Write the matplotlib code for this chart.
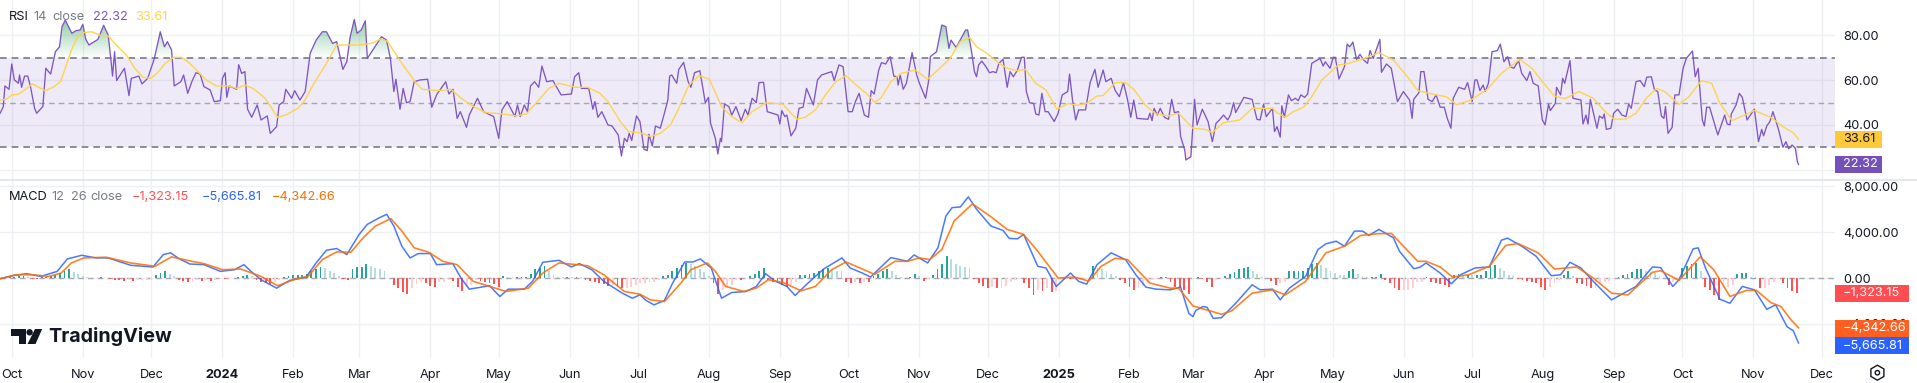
import numpy as np
import pandas as pd
import matplotlib
matplotlib.use("Agg")
import matplotlib.pyplot as plt
from matplotlib.path import Path
from matplotlib.patches import Rectangle, Polygon, Circle, RegularPolygon

# all x values are days counted from 1 Oct 2023
START = pd.Timestamp("2023-10-01")

month_dates = ["2023-10-01", "2023-11-01", "2023-12-01", "2024-01-01", "2024-02-01", "2024-03-01",
               "2024-04-01", "2024-05-01", "2024-06-01", "2024-07-01", "2024-08-01", "2024-09-01",
               "2024-10-01", "2024-11-01", "2024-12-01", "2025-01-01", "2025-02-01", "2025-03-01",
               "2025-04-01", "2025-05-01", "2025-06-01", "2025-07-01", "2025-08-01", "2025-09-01",
               "2025-10-01", "2025-11-01", "2025-12-01"]
month_labels = ["Oct", "Nov", "Dec", "2024", "Feb", "Mar", "Apr", "May", "Jun", "Jul", "Aug", "Sep",
                "Oct", "Nov", "Dec", "2025", "Feb", "Mar", "Apr", "May", "Jun", "Jul", "Aug", "Sep",
                "Oct", "Nov", "Dec"]

rsi_ticks = [80, 60, 40, 20]
rsi_tick_labels = ["80.00", "60.00", "40.00", ""]  # 20.00 sits behind the 22.32 tag
macd_ticks = [8000, 4000, 0, -4000]
macd_tick_labels = ["8,000.00", "4,000.00", "0.00", "\u22124,000.00"]

rsi_days = [-5.2, -3.8, -3.1, -1.3, -0.1, 1, 2.8, 3.3, 4.2, 5.5, 6.9, 8.1, 9.9, 10.8, 13.5, 14.8, 16.9, 19, 20.8, 21.9,
            23.3, 25.1, 26.2, 28, 29.8, 31, 32.3, 33.7, 37.6, 40.1, 42.1, 43.3, 44, 44.9, 45.8, 49.2, 51.2, 52.2, 55.5, 56.9,
            59.4, 62.3, 64.9, 66.7, 68, 69.8, 71, 73.9, 75.1, 76.9, 78.7, 80.5, 82.3, 84, 86.7, 88.5, 91.2, 92.1, 93.3, 94,
            95.1, 98.3, 99.2, 100.5, 101.9, 103.1, 104.9, 107.3, 109, 111.7, 113, 115.8, 116.9, 118.9, 119.8, 122.4, 123.7, 126, 128.3, 130.5,
            133.1, 135.8, 137.6, 140.3, 142.1, 144.8, 146.5, 148, 149.8, 151, 152.8, 154.6, 155.5, 161.7, 163.9, 165.6, 167.1, 168, 169.8, 171.2,
            172.6, 174.2, 176, 178.7, 181.9, 183.7, 185.8, 189.8, 191.2, 193, 194.8, 196.2, 198.9, 200.1, 203.7, 206.4, 210.8, 213, 214.4, 216.7,
            220.1, 221.2, 222.4, 224.2, 225.6, 226.9, 228.7, 230.5, 231.9, 234, 236.7, 240.3, 244.8, 246.2, 248, 249.2, 252.4, 254.2, 255.1, 256.4,
            258.1, 260.8, 262.6, 265.3, 266.7, 268, 269.2, 270.1, 271.2, 273.3,
            274.8, 276.6, 278, 278.7, 280.2, 281.6, 283.7, 285.5, 287, 287.8, 288.7, 290.9, 291.8, 293.9, 295.9, 297.1, 298.7, 301, 302.1, 303.4,
            304.8, 305.7, 307.8, 308.9, 310, 310.5, 311.8, 313.7, 315, 316.8, 319.1, 320.9, 322.1, 323.9, 325.7, 326.9, 328.9, 330.5, 332.8, 335.2,
            336, 336.9, 338.2, 339.1, 340.9, 343, 344.4, 346.2, 347.7, 350.7, 352.5, 354.3, 358.7, 359.8, 361.9, 363.7, 365.9, 367.7, 369.1, 370.7,
            373, 374.8, 376, 377.3, 379.3, 380.5, 382.3, 384.3, 385.9, 387.3, 387.8, 388.7, 390, 391.4, 393.9, 395.9, 397.1, 399.8, 401.2, 401.9,
            404.6, 406.9, 408.7, 410, 410.9, 413.2, 417.3, 418.2, 419.8, 421.2, 422.1, 423, 424.4, 426.2, 427.8, 429.3, 430.7, 431.9, 433.7, 435.5,
            436.8, 438.2, 440, 441.8, 443, 443.9, 445.3, 447.1, 448, 449.4, 450.7, 452.1, 453.4, 456.1, 457.8, 459.6, 462, 462.8, 464.1, 465.5,
            466.8, 469.8, 471.8, 473.9, 475.3, 477.5, 478.7, 481, 482.8, 484.6, 486.4, 488.2, 489.6, 490.9, 492.3, 497.1, 498, 498.9, 499.8, 501.2,
            502.5, 504.3, 506.1, 507.5, 508.7, 510.5, 511.4, 513.2, 513.7, 515.9, 517.5, 518.6, 520.9, 523.4, 525.3, 526.9, 528.4, 530.2, 532, 533.2,
            534.6, 535.5, 539.1, 542.7, 544.8, 546.2, 547.7, 548.9, 551.6, 552.5,
            553.6, 555, 555.7, 556.8, 558.6, 559.9, 561.6, 562.9, 564, 565.7, 567, 568.8, 572.4, 573.8, 574.7, 576.8, 578.2, 579.1, 580.7, 583.1,
            584.3, 585.4, 586.8, 588.4, 589.9, 591.5, 593.2, 594.3, 595.7, 598.6, 599.3, 601.5, 603.6, 606.3, 608.9, 611.6, 612.7, 613.4, 615.7, 616.5,
            617.9, 619.7, 621.5, 623.2, 625, 626.8, 628.1, 629.7, 630.7, 633.1, 635.7, 637, 639, 640.2, 641.1, 642.4, 643.8, 644.7, 646.1, 647.7,
            650, 651.3, 652.9, 654.5, 655.7, 657.2, 659.3, 660.7, 662.9, 664.3, 665.7, 667.9, 669.7, 670.9, 672.4, 673.2, 675.4, 675.9, 677.7, 678.6,
            679.5, 681.8, 683.1, 686.6, 687.5, 688.8, 689.7, 690.7, 693.6, 694.7, 696.1, 696.8, 697.7, 699.7, 700.9, 702.7, 704.5, 706.3, 707.5, 708.6,
            710.7, 712.5, 714.3, 715.4, 717.4, 718.8, 720.2, 721.8, 722.9, 723.6, 724.7, 726.5, 727.7, 729.5, 731.3, 732.7, 735.4, 736.6, 737.9, 739.7,
            740.6, 741.6, 742.9, 746.5, 749.5, 750.6, 751.8, 752.4, 754.5, 755.9, 757.2, 759.3, 762.5, 764.3, 765.7, 766.5, 767.9, 769.3, 770.6, 772.9,
            775, 776.3, 777.5, 779, 780.4, 781.3, 781.8]
rsi_vals = [45.2, 48.2, 57.4, 55.9, 67.2, 60.1, 58.6, 62.3, 56.8, 61.8, 61.8, 57.1, 47.4, 45.2, 48.2, 65.3, 62.7, 72.7, 74.9, 83.9,
            86.8, 83.1, 80.9, 82.1, 82.4, 84.9, 78.2, 75.7, 78.2, 84.5, 80.1, 69, 61.8, 72.7, 59.8, 65.3, 53.1, 60.8, 61.8, 58.3,
            60.8, 69.7, 81.6, 74.9, 77.2, 73.5, 57.4, 59.3, 62.3, 54.1, 59.3, 63.3, 62.7, 57.1, 55.6, 50.4, 50.8, 60.8, 63.3, 52.3,
            57.4, 55.9, 66.9, 63, 63.8, 47, 43.4, 48.9, 42.2, 44, 36.2, 39.2, 48.9, 50.4, 55.9, 51.9, 55.3, 51.1, 54.9, 72,
            77.9, 81.6, 81.6, 76.4, 77.2, 64.8, 68.2, 79.4, 87.1, 80.9, 82.4, 86.5, 69.7, 79.4, 77.9, 69.7, 54.9, 60.4, 47, 56.3,
            49.9, 50.4, 59.3, 60.1, 60.4, 47.9, 53.4, 59.3, 53.8, 55.9, 42.9, 45.9, 38.9, 44.4, 51.9, 45.9, 43.7, 34, 46.7, 50.4,
            43.7, 48.9, 43.7, 48.9, 45.9, 57.4, 59.3, 56.8, 66.3, 59.3, 59.8, 53.4, 53.8, 61.5, 63.3, 56.3, 56.3, 47, 50.4, 43.4,
            45.9, 40, 39.5, 35.5, 26.1, 34, 32.5, 36.2, 33, 44,
            41.5, 29.1, 28.5, 35.8, 30.6, 39.5, 38.5, 45.2, 51.1, 61.8, 62.3, 58.6, 64.8, 67.9, 59.3, 56.8, 63.3, 64.2, 57.8, 49.9,
            52.3, 40.7, 34, 27, 34, 32.5, 49.3, 48.2, 44.4, 48.2, 41.9, 47, 44.4, 51.9, 49.9, 58.9, 59, 45.9, 45.2, 44.4,
            40.4, 46.4, 43.7, 44.4, 35.1, 38.5, 47.4, 47.9, 56.3, 48.9, 60.1, 62.3, 63.8, 59.8, 66.8, 66, 45.9, 45.9, 50.4, 54.1,
            44.4, 43.4, 55.3, 53.8, 64.5, 67.8, 67.2, 70.5, 61.8, 61.5, 57.8, 62.3, 55.9, 58.6, 72.3, 62.3, 58.6, 51.9, 60.1, 70.5,
            72.7, 84.6, 83.9, 74.2, 77.9, 74.6, 82.4, 82.4, 73.5, 63.8, 61.5, 66.8, 68.5, 66, 63.3, 63.8, 63.3, 67.5, 69.3, 56.8,
            63.8, 61.5, 64.5, 70.2, 70.2, 54.9, 49.9, 49.6, 44.9, 44.4, 54.1, 45.9, 45.9, 41.5, 45.2, 53.4, 54.9, 62.7, 51.1, 42.2,
            46.7, 46.7, 58.9, 64.8, 56.8, 64.5, 59.3, 60.8, 55.3, 52.6, 58.9, 51.1, 43.4, 51.1, 42.9, 42.5, 45.2, 41.9, 47.4, 44.4,
            47.4, 43.4, 42.5, 51.4, 45.5, 45.9, 34.8, 28.8, 24.3, 25.8, 51.4, 40, 47, 41.5, 32.5, 40.7, 42.2, 44.4, 42.2, 44.4,
            49.9, 45.5, 52.3, 51.4, 42.5, 42.2, 49.3, 43.7, 47.4, 37,
            39.2, 34.5, 48.5, 43.4, 53.4, 50.8, 51.9, 50.8, 53.4, 52.3, 53.8, 67.5, 69.7, 66.3, 68.2, 65.3, 70.2, 70.2, 60.5, 66,
            76.1, 74.9, 77, 69.3, 71.5, 69, 67.5, 73.2, 69.7, 78.2, 63.5, 67.2, 65.3, 50.4, 54.9, 51.1, 42.9, 51.4, 54.4, 63.8,
            63.8, 51.4, 50.4, 53.4, 47.9, 47.9, 42.9, 38.5, 51.9, 56.8, 55.9, 58.9, 50.4, 60.1, 60.1, 55.3, 57.8, 54.9, 58.6, 72.7,
            73.2, 76.1, 68.2, 70.5, 66, 65.3, 68.7, 63, 59.8, 63.8, 58.6, 57.4, 42.2, 40, 49.3, 46.4, 49.6, 56.8, 53.4, 60.8,
            58.6, 68.7, 51.9, 51.1, 40.4, 44.4, 40.4, 51.4, 38.5, 44, 42.9, 44.9, 38, 38.5, 45.2, 47, 44.4, 43.7, 49.3, 47.4,
            59.3, 59.8, 57.1, 61.3, 61.5, 55.6, 54.9, 44, 42.9, 48.2, 36.2, 38.9, 53.4, 53.4, 65.3, 69.7, 73, 61.5, 65.3, 42.2,
            39.5, 47.9, 47.9, 35.5, 44.4, 40.4, 40, 44.9, 48.9, 54.1, 52.3, 42.2, 47, 32.5, 38, 35.1, 39.5, 41.5, 45.9, 38.5,
            30, 32.5, 29.3, 31, 29.6, 23.6, 22.32]

ma_days = [-5.2, -2.6, 0.1, 2.8, 5.5, 9, 11.7, 14.4, 18, 21.2, 23.3, 26, 28.7, 31.4, 34.9, 38.5, 42.1, 45.6, 50.1, 53.7,
           57.3, 60.8, 63.5, 67.1, 70.6, 74.2, 77.8, 81.4, 84.9, 89.4, 94.8, 98.3, 101.9, 105.5, 110.8, 116.2, 119.8, 125.1, 127.8, 132.2,
           137.6, 142.1, 146.5, 151.9, 157.3, 161.7, 164.4, 170.6, 176.9, 179.6, 186.7, 192.1, 196.5, 201.9, 207.3, 214.4, 220.7, 225.1, 230.5, 234.9,
           239.4, 246.5, 251.9, 257.3, 260.8, 266.2, 269.8, 274.8, 279.3, 283.7, 288.2, 291.8, 296.2, 300.7, 305.2, 310.5, 315, 319.4, 323.9, 330.2,
           337.3, 340.9, 343.6, 347.1, 351.6, 356, 360.5, 365, 369.4, 373.9, 377.5, 380.2, 384.6, 389.1, 395.3, 400.7, 405.2, 410.5, 415, 419.1,
           422.1, 426.6, 432, 435.5, 440, 443.5, 448, 452.5, 457.3, 462.3, 465.9, 470.3, 474.8, 477.5, 482.8, 487.3, 490.9, 496.2, 500.7, 506.1,
           510.5, 516.8, 522.1, 525.2, 530.2, 537.3, 542.7, 551.6, 553.6, 557.2, 560.7, 565.2, 568.8, 573.2, 580.4, 584, 591.1, 598.2, 604.5, 610.7,
           615.2, 623.2, 627.7, 632.2, 638.4, 645.6, 651.8, 659.9, 665.2, 669.7, 675, 679.5, 685.7, 692, 696.5, 700.9, 706.3, 710.7, 715.2, 719.7,
           723.2, 729.5, 733.9, 739.3, 743.8, 747.4, 752.7, 762.5, 769.7, 775, 779.5, 781.8]
ma_vals = [51.1, 51.4, 53.4, 53.7, 55.6, 58.3, 56.8, 55.3, 56.8, 59.3, 65.3, 73.5, 79.4, 81.3, 81.6, 80.1, 79.7, 75.7, 71.2, 65.3,
           61.3, 60.8, 63.1, 67.5, 70.2, 70.2, 67.5, 63.8, 60.1, 57.4, 57.4, 56.3, 57.8, 56.3, 51.9, 43.4, 44.4, 47.4, 50.4, 58.6,
           67.5, 75.7, 75.7, 75.7, 76.4, 78.5, 77.2, 67.5, 58.6, 55.9, 55.3, 55.9, 51.9, 48.2, 45.5, 44.9, 44, 44.9, 51.1, 56.3,
           58.6, 56.8, 56.8, 54.1, 50.4, 41.5, 37, 36.5, 34.8, 36.2, 40, 47.4, 57.8, 62, 60.4, 48.2, 43.7, 41, 45.9, 49.9,
           49.3, 45.2, 42.6, 43.4, 46.7, 53.4, 59.3, 62, 57.8, 54.1, 50.1, 51.9, 59.3, 63, 64.5, 60.4, 64.5, 69.7, 77.2, 79,
           74.9, 72, 67.5, 65.3, 64.2, 64.8, 58.6, 55.6, 47, 49.6, 48.7, 49.6, 52.9, 53.1, 58.9, 58.9, 55.9, 48.5, 44.9, 44,
           45.2, 38.5, 38, 36.5, 41, 42.2, 47.4, 47.4, 45.5, 43.4, 45.9, 47.9, 52.6, 60.1, 66.8, 67.2, 69.4, 72.3, 69, 61.5,
           55.3, 53.4, 52.6, 49, 51.1, 55.9, 63, 69.3, 65.3, 59.3, 52.9, 51.7, 54.9, 51.9, 46.7, 42.6, 42.6, 45.2, 51.9, 56.3,
           54.9, 49.2, 52.6, 59.8, 58.6, 49.6, 41.9, 46.4, 43.4, 39.2, 36.5, 33.61]

macd_days = [-5.2, 0.1, 6.4, 12.6, 19.8, 24.2, 30.5, 36.7, 42.1, 51.9, 61.7, 66.2, 69.4, 73.3, 77.8, 84, 91.2, 97.4, 101.5, 104.6,
             109, 115.8, 121.5, 128.7, 133.1, 137.6, 142.1, 146.5, 151.9, 155.5, 160.8, 164, 167.1, 170.6, 174.2, 177.8, 183.1, 185.8, 192.9, 196.5,
             200.1, 202.8, 209, 213.5, 217.1, 224.2, 227.8, 232.3, 239.4, 244.8, 248.3, 253.7, 259, 267.1, 271.5, 274.8, 277.5, 281, 285.5, 289.1,
             294.4, 298, 301.2, 306, 310.5, 315, 321.2, 325.7, 329.8, 333.7, 339.1, 342.7, 348, 355.2, 363.2, 366.8, 372.1, 375.7, 384.6, 391.8,
             394.8, 400.7, 405.2, 408.7, 411.4, 415, 418.5, 422.1, 428.4, 433.7, 436.4, 440, 442.7, 448.9, 452.5, 457, 463.2, 466.8, 470.3, 474.8,
             481, 487.3, 491.8, 496.2, 500.7, 506.9, 511.4, 515, 516.8, 518, 521.2, 523, 525.7, 529.3, 535.5, 542.7, 546.2, 551.6, 555, 559,
             566.1, 571.5, 575, 579.5, 583.1, 587.5, 591.1, 593.8, 598.2, 604.5, 607.2, 613.4, 616.1, 618.8, 625, 629.9, 633.9, 640.2, 646.5, 651.8,
             654.5, 660.7, 667, 673.6, 677.7, 681.8, 686.6, 692, 700, 710.7, 717.9, 721.5, 726.8, 729.5, 735.7, 737.9, 741.1, 747.4, 751.8, 757.2,
             762.5, 767.9, 771.8, 776.8, 779.5, 781.8]
macd_vals = [-60, 205, 380, 145, 585, 1670, 1990, 1760, 1760, 1115, 965, 2050, 2200, 1670, 1230, 1170, 585, 730, 1170, 585,
             -145, -880, -205, 90, 1320, 2430, 2580, 2050, 3810, 4690, 5270, 5570, 4540, 2780, 1760, 2140, 2140, 1170, 1260, 0,
             -970, -880, -670, -1610, -970, -970, -290, 1380, 1550, 970, 1260, 730, -290, -1320, -1760, -1465, -1960, -2340, -1960, -440,
             1405, 1405, 1670, 880, -1760, -1260, -1170, -730, 380, -235, -730, -1520, -500, 790, 1760, 880, 440, 90, 1790, 1465,
             2020, 1320, 2640, 5420, 6150, 6210, 7090, 6010, 4540, 4160, 3460, 3430, 3810, 1025, 880, -730, 440, -290, -530, 1170,
             2200, 1610, 290, -790, -970, -1025, -790, -3080, -3370, -2840, -2490, -2550, -3520, -3460, -2200, -585, -1025, -970, -1900, -880,
             145, 2490, 2990, 3220, 2780, 4100, 4100, 3720, 4250, 3520, 2340, 820, 940, 1320, 440, -500, 290, 880, 970, 3310,
             3490, 2780, 1900, 205, 290, 1380, 880, -290, -1900, -730, 970, 910, -730, -145, 2550, 2640, 880, -1850, -2200, -730,
             -1025, -2725, -2340, -4250, -4600, -5665.81]

signal_days = [-5.2, 1.9, 9, 16.2, 21.5, 26, 31.4, 41.2, 51.9, 62.6, 69.8, 78.7, 84, 92.1, 100.1, 109, 116.2, 123.3, 129.6, 135.8,
               142.1, 148.3, 153.7, 159, 165.8, 170.6, 176, 182.3, 188.5, 194.8, 201.9, 209, 216.2, 226, 232.3, 239.4, 251.9, 259, 268, 274.8,
               279.3, 285.5, 292.7, 297.1, 304.3, 307.8, 312.3, 320.3, 325.7, 331, 337.3, 345.3, 351.6, 358.7, 365, 377.5, 386.4, 391.8, 397.1, 401.6,
               406.9, 412.3, 420.3, 428.4, 435.5, 442.7, 448.9, 457.8, 465, 471.2, 476.6, 482.8, 488.2, 498, 506.9, 510.5, 516.8, 529.3, 533.7, 542.7,
               551.6, 557.2, 566.1, 575, 583.1, 590.2, 597.3, 603.6, 608.9, 615.2, 618.8, 625, 630.4, 637.5, 646.5, 653.6, 659, 667.9, 675, 684.8,
               692, 700, 707.2, 717.9, 721.5, 729.5, 738.8, 744.7, 751.8, 759, 763.4, 769.7, 774.1, 778.6, 781.8]
signal_vals = [-60, 290, 290, 145, 440, 1320, 1760, 1820, 1320, 1030, 1850, 1465, 1260, 730, 790, 145, -670, -145, 145, 1610,
               2285, 2260, 3520, 4540, 5190, 4100, 2640, 2260, 1465, 1170, -290, -730, -1170, -880, 440, 1320, 1080, 290, -1170, -1405,
               -1900, -2050, -440, 730, 1320, 585, -730, -1170, -880, -145, -380, -1110, -730, 730, 1405, 320, 1465, 1465, 1760, 1610,
               2490, 4980, 6480, 5360, 4250, 3810, 2340, 0, 90, -265, 1025, 1730, 1610, -440, -880, -880, -2430, -3160, -2870, -1320,
               -1025, -1465, -290, 2200, 2780, 3720, 3870, 3900, 2780, 1465, 1465, 970, 90, 290, 1025, 2840, 3020, 2200, 790, 970,
               0, -1320, -1465, 500, 645, -205, 1850, 730, -1610, -1080, -1080, -2140, -2490, -3660, -4342.66]

# histogram, read every second day
hist_days = np.arange(-5, 782, 2)
hist_vals = [0, 30, 60, 120, 150, 150, 120, -60, -90, 60,
             120, 150, 240, 420, 600, 750, 540, 360, 210, 90,
             30, -30, 60, 30, -90, -150, -180, -240, -210, -240,
             -180, -150, -150, -90, 240, 450, 600, 360, 150, -150,
             -240, -360, -300, -180, -240, -210, -240, -150, -90, -120,
             -60, 30, 60, 180, 300, 150, -150, -360, -450, -540,
             -300, -150, 60, 210, 240, 240, 240, 360, 600, 780,
             960, 840, 660, 420, 150, -90, -180, 750, 960, 960,
             1200, 1080, 900, 780, 600, 0, -600, -900, -1200, -1410,
             -900, -540, -360, -450, -660, -750, -360, -300, -180, -240,
             -750, -1140, -750, -600, -150, -240, -360, -450, -540, -750,
             150, 90, 60, 60, 90, 90, 360, 750, 900, 1050,
             600, 240, 90, 60, 90, 60, 90, 60, -150, -240,
             -360, -450, -540, -660, -600, -750, -900, -900, -750, -600,
             -450, -450, -360, -300, -180, 150, 300, 600, 840, 1140,
             1350, 1200, 1020, 750, 540, 150, -450, -1350, -1050, -750,
             -600, -150, -180, -120, 150, 360, 660, 840, -150, -300,
             -450, -600, -750, -600, -360, 240, 300, 360, 450, 600,
             750, 840, 750, 660, 600, -300, -450, -360, -450, -300,
             -360, 150, 360, 600, 750, 600, 240, 90, -60, 120,
             390, 180, -240, -120, 300, 750, 1200, 1950, 1650, 1260,
             1050, 960, 900, -60, -450, -660, -840, -750, -900, -840,
             -660, -300, -150, -60, -450, -900, -1500, -1050, -1140, -900,
             -1200, -1140, -90, 60, -90, -60, -90, -60, -60, 1050,
             900, 750, 600, 360, 150, -150, -450, -750, -1050, -900,
             -660, -450, -150, -60, 60, 90, -300, -750, -900, -1050,
             -1350, -90, 60, -90, -360, -750, -150, -90, 150, 360,
             540, 750, 900, 960, 600, 360, 90, 30, -240, -600,
             -450, -360, 600, 600, 600, 600, 900, 1200, 1350, 1140,
             900, 660, 450, 300, 240, 600, 750, 360, 180, 90,
             90, 90, 360, -150, -450, -900, -1050, -1050, -1050, -840,
             -300, -300, 90, -300, -450, -540, -600, -750, 300, 360,
             300, 300, 240, 240, 240, 600, 1050, 1140, 900, 600,
             300, 150, -90, -150, -240, -360, -450, -750, -1050, -750,
             -450, -150, 240, 600, 150, -450, -540, -660, -900, -840,
             -450, -300, -240, -60, 60, 240, 360, 540, 750, 750,
             660, 540, 450, 150, 0, -600, -360, -150, 900, 1050,
             1200, 1350, 600, -750, -1050, -1500, -1950, -900, -750, -600,
             360, 450, 450, 90, 60, -900, -840, -600, -300, -90,
             -450, -900, -1140, -1323.15]

PURPLE = '#7e57c2'
YELLOW = '#fdd44f'
BLUE = '#2962ff'
ORANGE = '#ff6d00'
GRID = '#eef0f4'
DARK = '#131722'
GREY = '#787b86'
FONT = 'Inter'
FS = 9.2

W, H = 1917, 383
plt.rcParams['font.family'] = [FONT, 'DejaVu Sans']
fig = plt.figure(figsize=(W / 100, H / 100), dpi=100, facecolor='white')

PLOT_R = 1834.6
ax1 = fig.add_axes([0, 1 - 179.5 / H, PLOT_R / W, 179.5 / H])
ax2 = fig.add_axes([0, 1 - 357.7 / H, PLOT_R / W, (357.7 - 180.5) / H])

month_x = [(pd.Timestamp(d) - START).days for d in month_dates]

for ax in (ax1, ax2):
    ax.set_xticks(month_x)
    ax.grid(True, color=GRID, lw=1)
    ax.set_axisbelow(True)
    ax.yaxis.tick_right()
    for s in ax.spines.values():
        s.set_visible(False)

# RSI pane
ax1.axhspan(30, 70, color=PURPLE, alpha=0.12, lw=0, zorder=1)
ax1.axhline(70, color='#787b86', lw=1.2, ls=(0, (4, 3)), zorder=2)
ax1.axhline(30, color='#787b86', lw=1.2, ls=(0, (4, 3)), zorder=2)
ax1.axhline(50, color='#787b86', lw=1, ls=(0, (4, 3)), alpha=0.6, zorder=2)

over = ax1.fill_between(rsi_days, rsi_vals, 70, where=np.array(rsi_vals) >= 70, interpolate=True, alpha=0)
grad = np.zeros((256, 1, 4))
grad[:, 0, :3] = matplotlib.colors.to_rgb('#2e9e5b')
grad[:, 0, 3] = np.linspace(0.55, 0, 256)
im = ax1.imshow(grad, extent=[-6, 790, 70, 87.5], origin='upper', aspect='auto', zorder=2.5)
im.set_clip_path(Path.make_compound_path(*over.get_paths()), transform=ax1.transData)

under = ax1.fill_between(rsi_days, rsi_vals, 30, where=np.array(rsi_vals) <= 30, interpolate=True,
                         color='#f23645', alpha=0.12, lw=0, zorder=2.5)

ax1.plot(rsi_days, rsi_vals, color=PURPLE, lw=0.95, zorder=3, solid_joinstyle='round')
ax1.plot(ma_days, ma_vals, color=YELLOW, lw=1, zorder=4)

ax1.set_xlim(-5.25, 797.6)
ax1.set_ylim(15.6, 95.8)
ax1.set_yticks(rsi_ticks)
ax1.set_yticklabels(rsi_tick_labels)
ax1.tick_params(axis='y', length=0, pad=6.3, labelsize=FS, labelcolor=DARK)
ax1.tick_params(axis='x', length=0, labelbottom=False)

# MACD pane
colors = []
for i, v in enumerate(hist_vals):
    prev = hist_vals[i - 1] if i else 0
    if v >= 0:
        colors.append('#26a69a' if v >= prev else '#b2dfdb')
    else:
        colors.append('#ffcdd2' if v >= prev else '#ff5252')
ax2.bar(hist_days, hist_vals, width=0.8, color=colors, lw=0, zorder=2)
ax2.axhline(0, color='#787b86', lw=1, ls=(0, (4, 3)), alpha=0.6, zorder=1)
ax2.plot(macd_days, macd_vals, color=BLUE, lw=1.1, alpha=0.85, zorder=3)
ax2.plot(signal_days, signal_vals, color=ORANGE, lw=1.2, alpha=0.85, zorder=4)

ax2.set_xlim(-5.25, 797.6)
ax2.set_ylim(-6954, 8520)
ax2.set_yticks(macd_ticks)
ax2.set_yticklabels(macd_tick_labels)
ax2.set_xticklabels(month_labels)
ax2.tick_params(axis='y', length=0, pad=6.3, labelsize=FS, labelcolor=DARK)
ax2.tick_params(axis='x', length=0, pad=8, labelsize=FS, labelcolor=DARK)
for lab, txt in zip(ax2.get_xticklabels(), month_labels):
    if txt.startswith('20'):
        lab.set_fontweight('bold')

# overlay in pixel coordinates: pane divider, legends, price tags, logo
ov = fig.add_axes([0, 0, 1, 1], zorder=10)
ov.set_xlim(0, W)
ov.set_ylim(H, 0)
ov.axis('off')
ov.patch.set_alpha(0)
ov.plot([0, W], [179.5, 179.5], color='#e0e3eb', lw=1.2)


def legend(items, y):
    for x, txt, col in items:
        ov.text(x, y, txt, color=col, fontsize=FS, va='center', ha='left')


legend([(9, 'RSI', DARK), (33.5, '14', GREY), (52.6, 'close', GREY),
        (93, '22.32', PURPLE), (135, '33.61', YELLOW)], 16.7)
legend([(9, 'MACD', DARK), (51, '12', GREY), (71.4, '26', GREY), (90.6, 'close', GREY),
        (131.4, '\u22121,323.15', '#ff5252'), (202, '\u22125,665.81', BLUE), (271.4, '\u22124,342.66', ORANGE)], 196.7)


def tag(x1, y0, y1, txt, bg, fg):
    ov.add_patch(Rectangle((PLOT_R, y0), x1 - PLOT_R, y1 - y0, color=bg, lw=0))
    ov.text(PLOT_R + 8.5, (y0 + y1) / 2, txt, color=fg, fontsize=FS, va='center', ha='left')


tag(1881.5, 131, 147.7, '33.61', '#ffca3a', DARK)
tag(1881.5, 156, 172.7, '22.32', '#7451b8', 'white')
tag(1909, 285, 301.7, '\u22121,323.15', '#ff4d52', 'white')
tag(1909, 320, 336.7, '\u22124,342.66', '#ff5f1f', 'white')
tag(1909, 337.3, 354, '\u22125,665.81', '#2962ff', 'white')

# TradingView mark
ov.add_patch(Polygon([(11.4, 329), (26, 329), (26, 344), (19, 344), (19, 335.5), (11.4, 335.5)], color=DARK, lw=0))
ov.add_patch(Circle((29.6, 332.3), 3.2, color=DARK, lw=0))
ov.add_patch(Polygon([(35, 329), (42.2, 329), (35.5, 344), (27.5, 344)], color=DARK, lw=0))
ov.text(48.5, 337, 'TradingView', color=DARK, fontsize=14.2, fontweight='bold', va='center', ha='left')

# settings hexagon
ov.add_patch(RegularPolygon((1877.4, 372.7), 6, radius=7.5, fill=False, ec=DARK, lw=1))
ov.add_patch(Circle((1877.4, 372.7), 2.2, fill=False, ec=DARK, lw=1))

fig.savefig('out.png', dpi=100, facecolor='white')
